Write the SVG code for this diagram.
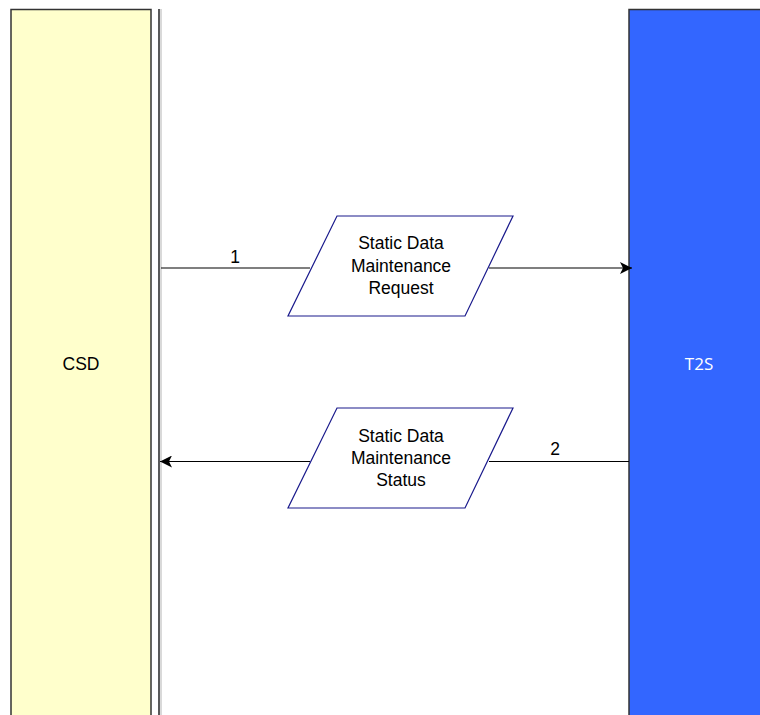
<svg xmlns="http://www.w3.org/2000/svg" width="760" height="715" viewBox="0 0 760 715">
<style>
.lane{stroke:#333;stroke-width:1.5}
.para{fill:#fff;stroke:#1a1a8c;stroke-width:1.2}
.t{font-family:"Liberation Sans",Arial,sans-serif;font-size:17.5px;fill:#000;text-anchor:middle}
.conn{stroke:#000;stroke-width:1.2;fill:none}
</style>
<defs>
<marker id="ah" markerWidth="12" markerHeight="12" refX="12" refY="6" orient="auto" markerUnits="userSpaceOnUse">
<path d="M0,0 L12,6 L0,12 L3,6 Z" fill="#000"/>
</marker>
</defs>
<rect width="760" height="715" fill="#fff"/>
<g id="csd">
<rect class="lane" x="11" y="9.5" width="140" height="710" fill="#ffffcc"/>
<text class="t" x="81" y="370">CSD</text>
</g>
<g id="divider">
<line x1="161" y1="9" x2="161" y2="715" stroke="#ccc" stroke-width="1.5"/>
<line x1="159" y1="9" x2="159" y2="715" stroke="#222" stroke-width="1.5"/>
</g>
<g id="t2s">
<rect class="lane" x="629" y="9.5" width="140" height="710" fill="#3366ff"/>
<text x="699" y="370" font-family="'Open Sans',sans-serif" font-size="17" fill="#fff" text-anchor="middle">T2S</text>
</g>
<g id="connectors">
<line class="conn" x1="161" y1="268" x2="310" y2="268"/>
<line class="conn" x1="489" y1="268" x2="632" y2="268" marker-end="url(#ah)"/>
<text class="t" x="235" y="263">1</text>
<line class="conn" x1="629" y1="461.5" x2="489" y2="461.5"/>
<line class="conn" x1="310" y1="461.5" x2="160" y2="461.5" marker-end="url(#ah)"/>
<text class="t" x="555" y="455">2</text>
</g>
<g id="request">
<polygon class="para" points="337,216 513,216 465,316 288,316"/>
<text class="t" x="401" y="249">Static Data</text>
<text class="t" x="401" y="272">Maintenance</text>
<text class="t" x="401" y="294">Request</text>
</g>
<g id="status">
<polygon class="para" points="337,408 513,408 465,508 288,508"/>
<text class="t" x="401" y="442">Static Data</text>
<text class="t" x="401" y="464">Maintenance</text>
<text class="t" x="401" y="486">Status</text>
</g>
</svg>
